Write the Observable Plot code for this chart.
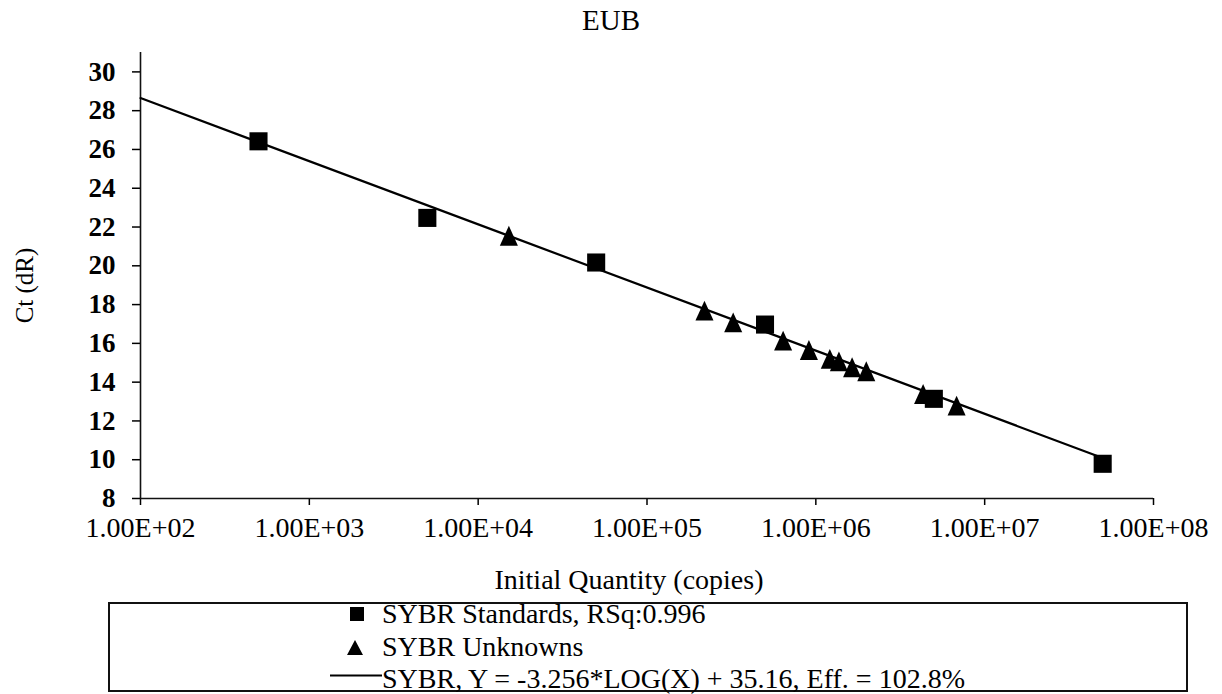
<!DOCTYPE html>
<html><head><meta charset="utf-8">
<script src="https://cdn.jsdelivr.net/npm/d3@7"></script>
<script src="https://cdn.jsdelivr.net/npm/@observablehq/plot@0.6"></script>
<style>
body{margin:0;background:#fff;color:#000;font-family:"Liberation Serif","Times New Roman",serif;}
#wrap{position:relative;width:1222px;height:694px;overflow:hidden;}
#title{position:absolute;left:0;top:0;width:1222px;height:40px;line-height:40px;text-align:center;font-size:29px;}
#chart{position:absolute;left:0;top:40px;}
#legend{position:absolute;left:108px;top:602px;width:1076px;height:86px;border:2px solid #111;}
.row{position:absolute;left:272px;height:30px;line-height:30px;font-size:28px;white-space:nowrap;}
.sym{position:absolute;}
</style></head>
<body>
<div id="wrap">
  <div id="title">EUB</div>
  <div id="chart"></div>
  <div id="legend">
    <svg class="sym" style="left:240px;top:3px" width="14" height="14"><rect width="14" height="14" fill="#000"/></svg>
    <div class="row" style="top:-5px">SYBR Standards, RSq:0.996</div>
    <svg class="sym" style="left:237px;top:36px" width="16" height="15"><path d="M8,0L16,15L0,15Z" fill="#000"/></svg>
    <div class="row" style="top:28px">SYBR Unknowns</div>
    <svg class="sym" style="left:220px;top:70px" width="52" height="3"><rect width="52" height="2" y="0.5" fill="#000"/></svg>
    <div class="row" style="top:60px">SYBR, Y = -3.256*LOG(X) + 35.16, Eff. = 102.8%</div>
  </div>
</div>
<script>
// Standards (squares)
const stdX = [5e2, 5e3, 5e4, 5e5, 5e6, 5e7];
const stdY = [26.42, 22.47, 20.17, 16.97, 13.14, 9.79];
// Unknowns (triangles)
const unkX = [1.52e4, 2.19e5, 3.24e5, 6.4e5, 9.1e5, 1.21e6, 1.37e6, 1.64e6, 1.99e6, 4.32e6, 6.82e6];
const unkY = [21.55, 17.69, 17.08, 16.14, 15.66, 15.2, 15.07, 14.77, 14.56, 13.39, 12.79];
// Fitted standard curve end points
const fitX = [1e2, 5e7];
const fitY = [28.65, 10.09];
// Ticks
const xTicks = [1e2, 1e3, 1e4, 1e5, 1e6, 1e7, 1e8];
const xTickLabels = ["1.00E+02","1.00E+03","1.00E+04","1.00E+05","1.00E+06","1.00E+07","1.00E+08"];
const yTicks = [8,10,12,14,16,18,20,22,24,26,28,30];

const std = stdX.map((x,i)=>({x, y: stdY[i]}));
const unk = unkX.map((x,i)=>({x, y: unkY[i]}));
const fit = fitX.map((x,i)=>({x, y: fitY[i]}));

const tallTriangle = {
  draw(ctx, size) {
    const s = Math.sqrt(size);
    ctx.moveTo(0, -0.55*s);
    ctx.lineTo(0.5*s, 0.55*s);
    ctx.lineTo(-0.5*s, 0.55*s);
    ctx.closePath();
  }
};

const chart = Plot.plot({
  width: 1222, height: 562,
  marginTop: 12, marginLeft: 140, marginRight: 69, marginBottom: 104,
  style: {fontFamily: '"Liberation Serif","Times New Roman",serif', fontSize: "28px", color: "#000", background: "#fff"},
  x: {type: "log", domain: [1e2, 1e8]},
  y: {domain: [8, 31]},
  marks: [
    Plot.axisX({ticks: xTicks, tickFormat: d => xTickLabels[xTicks.findIndex(t => Math.abs(t - d) < 1e-6 * t)], tickSize: 7, tickPadding: 12, label: null, fontSize: 28, strokeWidth: 1.5}),
    Plot.axisY({ticks: yTicks, tickSize: 8, tickPadding: 17, label: null, fontSize: 27, fontWeight: "bold", strokeWidth: 1.5}),
    Plot.ruleX([1e2], {stroke: "#111", strokeWidth: 1.6}),
    Plot.ruleY([8], {stroke: "#111", strokeWidth: 1.6}),
    Plot.line(fit, {x: "x", y: "y", stroke: "#000", strokeWidth: 2.2}),
    Plot.dot(std, {x: "x", y: "y", symbol: "square", r: 10.2, fill: "#000"}),
    Plot.dot(unk, {x: "x", y: "y", symbol: tallTriangle, r: 10.2, fill: "#000"}),
    Plot.text(["Initial Quantity (copies)"], {frameAnchor: "bottom", textAnchor: "middle", lineAnchor: "middle", dx: -18, dy: 82, fontSize: 28}),
    Plot.text(["Ct (dR)"], {frameAnchor: "left", textAnchor: "middle", lineAnchor: "middle", rotate: -90, dx: -116, dy: 10, fontSize: 25})
  ]
});
document.getElementById("chart").appendChild(chart);
</script>
</body></html>
